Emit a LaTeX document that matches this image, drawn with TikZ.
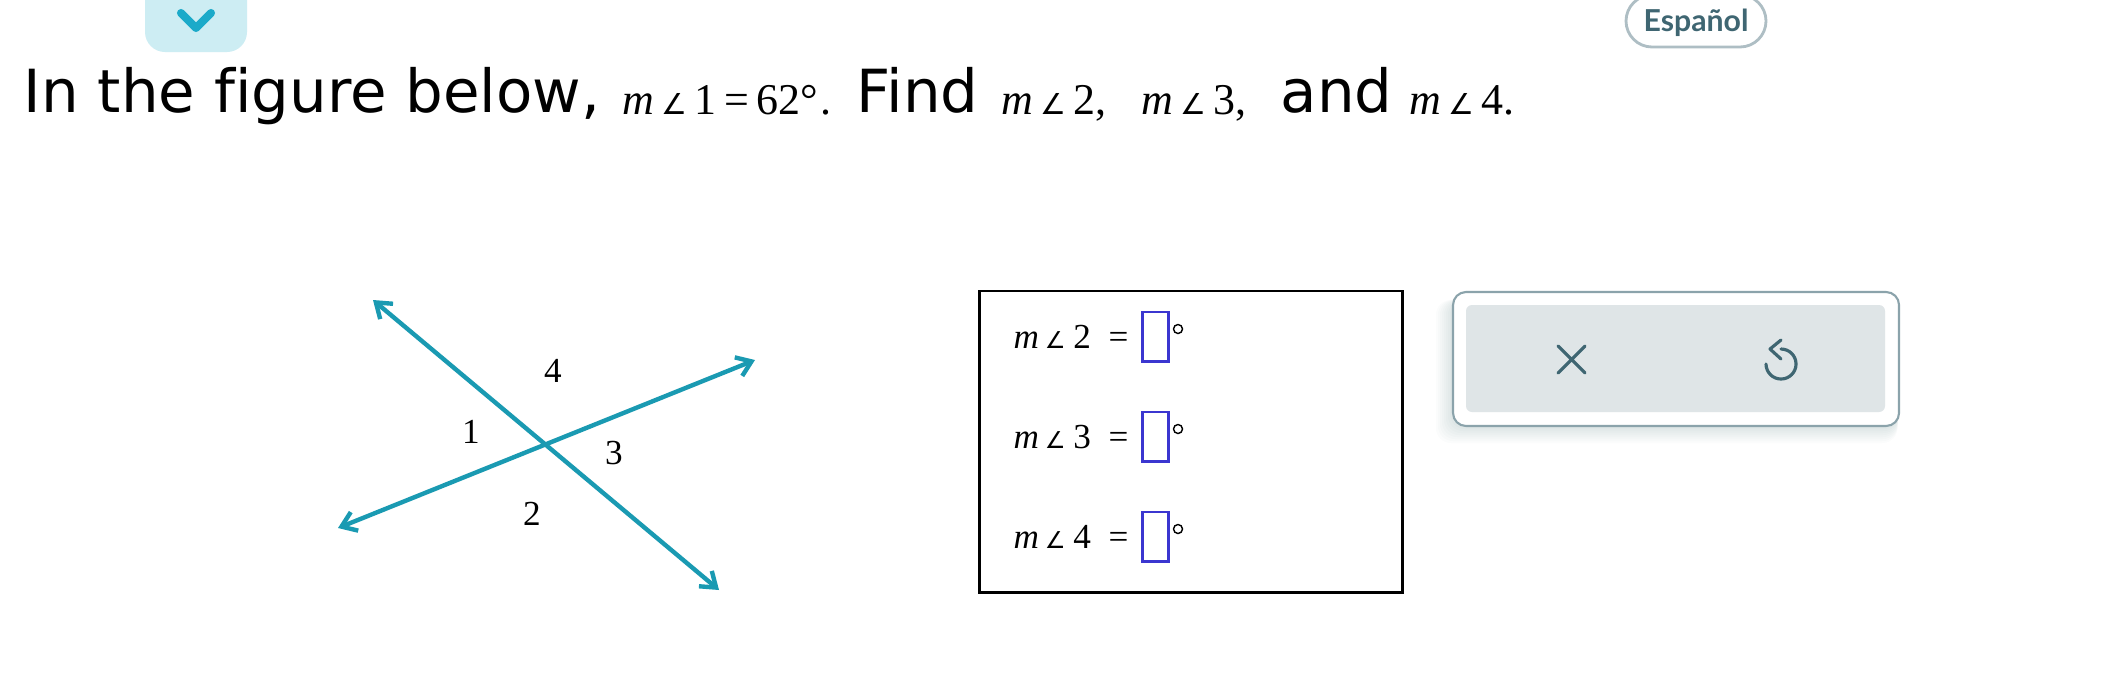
\documentclass[tikz,border=0pt]{standalone}
\usepackage{fontspec}
\setmainfont{Liberation Serif}
\newfontfamily\headfont[Ligatures=NoCommon]{DejaVu Sans}
\newfontfamily\uifont{Lato Bold}
\usetikzlibrary{arrows.meta}
\definecolor{teal}{HTML}{1A9AB2}
\definecolor{bright}{HTML}{1BAAC9}
\definecolor{slate}{HTML}{3F6672}
\definecolor{pale}{HTML}{CDEDF3}
\definecolor{panel}{HTML}{DFE5E7}
\definecolor{edge}{HTML}{8BA3AB}
\definecolor{inkblue}{HTML}{3B36D0}
\newcommand{\mang}[2][8.2]{\textit{m}\,{\headfont\fontsize{#1}{8}\selectfont ∠}\,#2}
\tikzset{
  head/.style={anchor=base west,inner sep=0pt,font=\headfont\fontsize{16.9}{20}\selectfont},
  sums/.style={anchor=base west,inner sep=0pt,font=\fontsize{12.5}{14}\selectfont},
  digit/.style={inner sep=0pt,font=\fontsize{10}{12}\selectfont},
  eqn/.style={anchor=base west,inner sep=0pt,font=\fontsize{10}{12}\selectfont},
  line/.style={teal,line width=1.25pt,{Straight Barb[length=1.4mm,width=2mm]}-{Straight Barb[length=1.4mm,width=2mm]}},
  ansbox/.style={draw=inkblue,line width=.85pt,minimum width=.26cm,minimum height=.49cm,inner sep=0pt},
  icon/.style={slate,line width=.9pt,line cap=round,line join=round}
}
\begin{document}
\begin{tikzpicture}[x=0.01cm,y=-0.01cm,>=stealth]
\useasboundingbox (0,0) rectangle (2104,672);
\clip (0,0) rectangle (2104,672);
\fill[white] (0,0) rectangle (2104,672);
% top buttons
\fill[pale,rounded corners=.2cm] (145,-30) rectangle (247,52);
\draw[bright,line width=2.3pt,line cap=round,line join=round] (181,13)--(196,28)--(211,13);
\draw[edge!70,line width=.8pt,rounded corners=.26cm] (1626,-5) rectangle (1766,47);
\node[inner sep=0pt,text=slate,font=\uifont\fontsize{8.6}{9}\selectfont] (lang) at (1696,23) {Español};
% heading
\node[head] (txta) at (23,112) {In the figure below,};
\node[sums] (suma) at (622,114) {\mang{1}\,=\,62°\kern.6pt.};
\node[head] (txtb) at (856,112) {Find};
\node[sums] (sumb) at (1001,114) {\mang{2},};
\node[sums] (sumc) at (1141,114) {\mang{3},};
\node[head] (txtc) at (1280,112) {and};
\node[sums] (sumd) at (1409,114) {\mang{4}.};
% lines
\coordinate (ta) at (373,300);
\coordinate (tb) at (719,590);
\coordinate (tc) at (755,360);
\coordinate (td) at (338,528);
\draw[line] (ta)--(tb);
\draw[line] (td)--(tc);
\foreach \n/\x/\y in {1/471/432,2/532/514,3/614/453,4/553/371}
  \node[digit] (ang\n) at (\x,\y) {\n};
% answer box
\node[draw=black,line width=.8pt,minimum width=4.22cm,minimum height=3.01cm,inner sep=0pt] (frame) at (1191,441.5) {};
\foreach \n/\y in {2/348,3/448,4/548}{
  \node[eqn] (eq\n) at (1013,\y) {\mang[6.6]{\kern.5pt\n}};
  \node[eqn] (is\n) at (1108,\y) {=};
  \node[ansbox] (box\n) at (1155,\y-11.5) {};
  \draw[line width=.4pt] (1178,\y-19) circle (4.5);
}
% tool panel
\foreach \s in {1,3,...,17}
  \fill[slate,opacity=.02,rounded corners=.15cm] (1453-\s,300) rectangle (1899-\s*.1,426+\s);
\draw[edge,fill=white,line width=.6pt,rounded corners=.13cm] (1453,292) rectangle (1899,426);
\fill[panel,rounded corners=.06cm] (1466,305) rectangle (1885,412);
\draw[icon] (1558,346)--(1585,373) (1585,346)--(1558,373);
\draw[icon] (1781,349) arc[start angle=90,end angle=-180,radius=.15cm];
\draw[icon] (1781,340)--(1770,349)--(1781,359);
\end{tikzpicture}
\end{document}
